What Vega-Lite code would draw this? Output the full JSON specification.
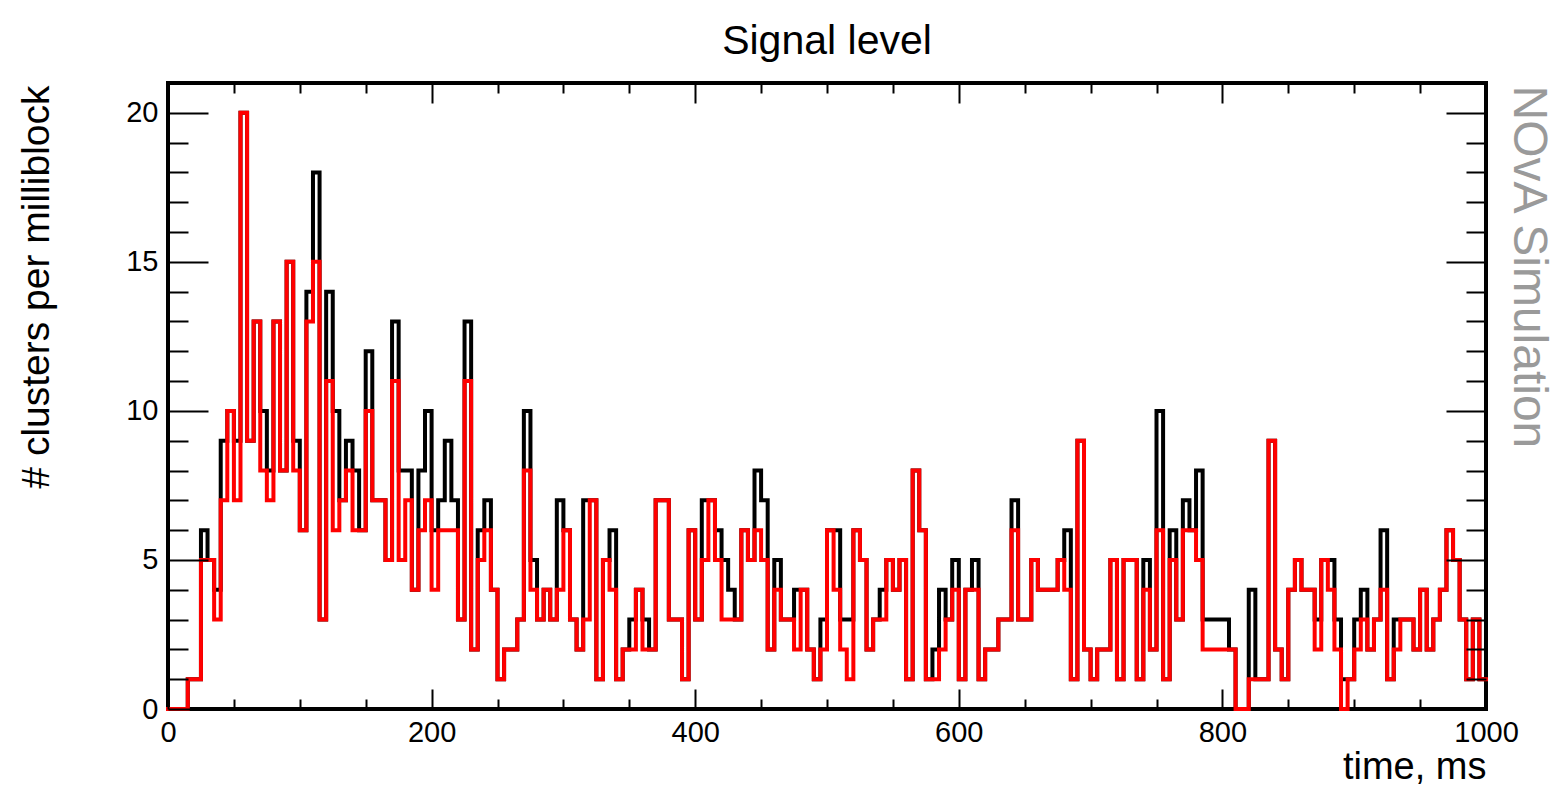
{
  "$schema": "https://vega.github.io/schema/vega-lite/v6.json",
  "width": 1318,
  "height": 626,
  "autosize": {"type": "none"},
  "padding": {"left": 168, "top": 83, "right": 70, "bottom": 76},
  "background": "white",
  "config": {
    "font": "Liberation Sans",
    "view": {"stroke": "black", "strokeWidth": 4},
    "axis": {"grid": false, "domain": false, "labelColor": "black", "tickColor": "black", "tickWidth": 2, "labelFlush": false, "labelOverlap": false, "labelBound": false}
  },
  "title": {"text": "Signal level", "font": "Liberation Sans", "fontSize": 41, "fontWeight": "normal", "color": "black", "anchor": "middle", "baseline": "alphabetic", "offset": 27, "dy": 40},
  "data": {"values": [
    {"t":0,"red":0,"black":0},{"t":5,"red":0,"black":0},{"t":10,"red":0,"black":0},{"t":15,"red":1,"black":1},{"t":20,"red":1,"black":1},
    {"t":25,"red":5,"black":6},{"t":30,"red":5,"black":5},{"t":35,"red":3,"black":4},{"t":40,"red":7,"black":9},{"t":45,"red":10,"black":10},
    {"t":50,"red":7,"black":9},{"t":55,"red":20,"black":20},{"t":60,"red":9,"black":9},{"t":65,"red":13,"black":13},{"t":70,"red":8,"black":10},
    {"t":75,"red":7,"black":8},{"t":80,"red":13,"black":13},{"t":85,"red":8,"black":8},{"t":90,"red":15,"black":15},{"t":95,"red":8,"black":9},
    {"t":100,"red":6,"black":6},{"t":105,"red":13,"black":14},{"t":110,"red":15,"black":18},{"t":115,"red":3,"black":3},{"t":120,"red":11,"black":14},
    {"t":125,"red":6,"black":10},{"t":130,"red":7,"black":7},{"t":135,"red":8,"black":9},{"t":140,"red":6,"black":8},{"t":145,"red":6,"black":6},
    {"t":150,"red":10,"black":12},{"t":155,"red":7,"black":7},{"t":160,"red":7,"black":7},{"t":165,"red":5,"black":5},{"t":170,"red":11,"black":13},
    {"t":175,"red":5,"black":8},{"t":180,"red":7,"black":8},{"t":185,"red":4,"black":4},{"t":190,"red":6,"black":8},{"t":195,"red":7,"black":10},
    {"t":200,"red":4,"black":6},{"t":205,"red":6,"black":7},{"t":210,"red":6,"black":9},{"t":215,"red":6,"black":7},{"t":220,"red":3,"black":3},
    {"t":225,"red":11,"black":13},{"t":230,"red":2,"black":2},{"t":235,"red":5,"black":6},{"t":240,"red":6,"black":7},{"t":245,"red":4,"black":4},
    {"t":250,"red":1,"black":1},{"t":255,"red":2,"black":2},{"t":260,"red":2,"black":2},{"t":265,"red":3,"black":3},{"t":270,"red":8,"black":10},
    {"t":275,"red":4,"black":5},{"t":280,"red":3,"black":3},{"t":285,"red":4,"black":4},{"t":290,"red":3,"black":3},{"t":295,"red":4,"black":7},
    {"t":300,"red":6,"black":6},{"t":305,"red":3,"black":3},{"t":310,"red":2,"black":2},{"t":315,"red":3,"black":7},{"t":320,"red":7,"black":7},
    {"t":325,"red":1,"black":1},{"t":330,"red":5,"black":5},{"t":335,"red":4,"black":6},{"t":340,"red":1,"black":1},{"t":345,"red":2,"black":2},
    {"t":350,"red":2,"black":3},{"t":355,"red":4,"black":4},{"t":360,"red":2,"black":3},{"t":365,"red":2,"black":2},{"t":370,"red":7,"black":7},
    {"t":375,"red":7,"black":7},{"t":380,"red":3,"black":3},{"t":385,"red":3,"black":3},{"t":390,"red":1,"black":1},{"t":395,"red":6,"black":6},
    {"t":400,"red":3,"black":3},{"t":405,"red":5,"black":7},{"t":410,"red":7,"black":7},{"t":415,"red":5,"black":6},{"t":420,"red":3,"black":5},
    {"t":425,"red":3,"black":4},{"t":430,"red":3,"black":3},{"t":435,"red":6,"black":6},{"t":440,"red":5,"black":5},{"t":445,"red":6,"black":8},
    {"t":450,"red":5,"black":7},{"t":455,"red":2,"black":2},{"t":460,"red":4,"black":5},{"t":465,"red":3,"black":3},{"t":470,"red":3,"black":3},
    {"t":475,"red":2,"black":4},{"t":480,"red":4,"black":4},{"t":485,"red":2,"black":2},{"t":490,"red":1,"black":1},{"t":495,"red":2,"black":3},
    {"t":500,"red":6,"black":6},{"t":505,"red":4,"black":6},{"t":510,"red":2,"black":3},{"t":515,"red":1,"black":3},{"t":520,"red":6,"black":6},
    {"t":525,"red":5,"black":5},{"t":530,"red":2,"black":2},{"t":535,"red":3,"black":3},{"t":540,"red":3,"black":4},{"t":545,"red":5,"black":5},
    {"t":550,"red":4,"black":4},{"t":555,"red":5,"black":5},{"t":560,"red":1,"black":1},{"t":565,"red":8,"black":8},{"t":570,"red":6,"black":6},
    {"t":575,"red":1,"black":1},{"t":580,"red":1,"black":2},{"t":585,"red":2,"black":4},{"t":590,"red":3,"black":3},{"t":595,"red":4,"black":5},
    {"t":600,"red":1,"black":1},{"t":605,"red":4,"black":4},{"t":610,"red":4,"black":5},{"t":615,"red":1,"black":1},{"t":620,"red":2,"black":2},
    {"t":625,"red":2,"black":2},{"t":630,"red":3,"black":3},{"t":635,"red":3,"black":3},{"t":640,"red":6,"black":7},{"t":645,"red":3,"black":3},
    {"t":650,"red":3,"black":3},{"t":655,"red":5,"black":5},{"t":660,"red":4,"black":4},{"t":665,"red":4,"black":4},{"t":670,"red":4,"black":4},
    {"t":675,"red":5,"black":5},{"t":680,"red":4,"black":6},{"t":685,"red":1,"black":1},{"t":690,"red":9,"black":9},{"t":695,"red":2,"black":2},
    {"t":700,"red":1,"black":1},{"t":705,"red":2,"black":2},{"t":710,"red":2,"black":2},{"t":715,"red":5,"black":5},{"t":720,"red":1,"black":1},
    {"t":725,"red":5,"black":5},{"t":730,"red":5,"black":5},{"t":735,"red":1,"black":1},{"t":740,"red":4,"black":5},{"t":745,"red":2,"black":2},
    {"t":750,"red":6,"black":10},{"t":755,"red":1,"black":1},{"t":760,"red":5,"black":6},{"t":765,"red":3,"black":3},{"t":770,"red":6,"black":7},
    {"t":775,"red":6,"black":6},{"t":780,"red":5,"black":8},{"t":785,"red":2,"black":3},{"t":790,"red":2,"black":3},{"t":795,"red":2,"black":3},
    {"t":800,"red":2,"black":3},{"t":805,"red":2,"black":2},{"t":810,"red":0,"black":0},{"t":815,"red":0,"black":0},{"t":820,"red":1,"black":4},
    {"t":825,"red":1,"black":1},{"t":830,"red":1,"black":1},{"t":835,"red":9,"black":9},{"t":840,"red":2,"black":2},{"t":845,"red":1,"black":1},
    {"t":850,"red":4,"black":4},{"t":855,"red":5,"black":5},{"t":860,"red":4,"black":4},{"t":865,"red":4,"black":4},{"t":870,"red":2,"black":3},
    {"t":875,"red":5,"black":5},{"t":880,"red":4,"black":5},{"t":885,"red":2,"black":3},{"t":890,"red":0,"black":1},{"t":895,"red":1,"black":1},
    {"t":900,"red":2,"black":3},{"t":905,"red":3,"black":4},{"t":910,"red":2,"black":2},{"t":915,"red":3,"black":3},{"t":920,"red":4,"black":6},
    {"t":925,"red":1,"black":1},{"t":930,"red":2,"black":3},{"t":935,"red":3,"black":3},{"t":940,"red":3,"black":3},{"t":945,"red":2,"black":2},
    {"t":950,"red":4,"black":4},{"t":955,"red":2,"black":2},{"t":960,"red":3,"black":3},{"t":965,"red":4,"black":4},{"t":970,"red":6,"black":6},
    {"t":975,"red":5,"black":5},{"t":980,"red":3,"black":3},{"t":985,"red":1,"black":1},{"t":990,"red":3,"black":3},{"t":995,"red":1,"black":1},
    {"t":1000,"red":1,"black":1}
  ]},
  "layer": [
    {
      "mark": {"type": "line", "interpolate": "step-after", "color": "black", "strokeWidth": 4, "strokeJoin": "miter", "strokeCap": "square"},
      "encoding": {
        "x": {"field": "t", "type": "quantitative", "scale": {"domain": [0, 1000], "nice": false, "zero": false},
          "axis": {"orient": "bottom", "values": [0, 200, 400, 600, 800, 1000], "format": "d", "ticks": false, "labelFontSize": 29, "labelPadding": 9,
            "title": "time, ms", "titleFontSize": 38, "titleFontWeight": "normal", "titleColor": "black", "titleAlign": "right", "titleBaseline": "alphabetic", "titleX": 1318, "titleY": 69}},
        "y": {"field": "black", "type": "quantitative", "scale": {"domain": [0, 21], "nice": false, "zero": true},
          "axis": {"orient": "left", "values": [0, 5, 10, 15, 20], "ticks": false, "labelFontSize": 29, "labelPadding": 10,
            "title": "# clusters per milliblock", "titleFontSize": 39, "titleFontWeight": "normal", "titleColor": "black", "titleAngle": -90, "titleAlign": "right", "titleBaseline": "alphabetic", "titleX": -120, "titleY": 2}}
      }
    },
    {
      "mark": {"type": "line", "interpolate": "step-after", "color": "#ff0000", "strokeWidth": 4, "strokeJoin": "miter", "strokeCap": "square"},
      "encoding": {
        "x": {"field": "t", "type": "quantitative", "scale": {"domain": [0, 1000], "nice": false, "zero": false},
          "axis": {"orient": "bottom", "values": [0, 200, 400, 600, 800, 1000], "labels": false, "tickSize": -20, "title": null, "zindex": 1}},
        "y": {"field": "red", "type": "quantitative", "scale": {"domain": [0, 21], "nice": false, "zero": true},
          "axis": {"orient": "left", "values": [0, 5, 10, 15, 20], "labels": false, "tickSize": -40, "title": null, "zindex": 1}}
      }
    },
    {
      "mark": {"type": "line", "interpolate": "step-after", "strokeOpacity": 0},
      "encoding": {
        "x": {"field": "t", "type": "quantitative", "scale": {"domain": [0, 1000], "nice": false, "zero": false},
          "axis": {"orient": "top", "values": [0, 200, 400, 600, 800, 1000], "labels": false, "tickSize": -20, "title": null, "zindex": 1}},
        "y": {"field": "red", "type": "quantitative", "scale": {"domain": [0, 21], "nice": false, "zero": true},
          "axis": {"orient": "right", "values": [0, 5, 10, 15, 20], "labels": false, "tickSize": -40, "zindex": 1,
            "title": "NOvA Simulation", "titleFontSize": 48, "titleFontWeight": "normal", "titleColor": "#9a9a9a", "titleAngle": 90, "titleAlign": "left", "titleBaseline": "alphabetic", "titleX": 27, "titleY": 2}}
      }
    },
    {
      "mark": {"type": "line", "interpolate": "step-after", "strokeOpacity": 0},
      "encoding": {
        "x": {"field": "t", "type": "quantitative", "scale": {"domain": [0, 1000], "nice": false, "zero": false},
          "axis": {"orient": "bottom", "values": [50, 100, 150, 250, 300, 350, 450, 500, 550, 650, 700, 750, 850, 900, 950], "labels": false, "tickSize": -10, "title": null, "zindex": 1}},
        "y": {"field": "red", "type": "quantitative", "scale": {"domain": [0, 21], "nice": false, "zero": true},
          "axis": {"orient": "left", "values": [1, 2, 3, 4, 6, 7, 8, 9, 11, 12, 13, 14, 16, 17, 18, 19], "labels": false, "tickSize": -20, "title": null, "zindex": 1}}
      }
    },
    {
      "mark": {"type": "line", "interpolate": "step-after", "strokeOpacity": 0},
      "encoding": {
        "x": {"field": "t", "type": "quantitative", "scale": {"domain": [0, 1000], "nice": false, "zero": false},
          "axis": {"orient": "top", "values": [50, 100, 150, 250, 300, 350, 450, 500, 550, 650, 700, 750, 850, 900, 950], "labels": false, "tickSize": -10, "title": null, "zindex": 1}},
        "y": {"field": "red", "type": "quantitative", "scale": {"domain": [0, 21], "nice": false, "zero": true},
          "axis": {"orient": "right", "values": [1, 2, 3, 4, 6, 7, 8, 9, 11, 12, 13, 14, 16, 17, 18, 19], "labels": false, "tickSize": -20, "title": null, "zindex": 1}}
      }
    }
  ],
  "resolve": {"axis": {"x": "independent", "y": "independent"}}
}
